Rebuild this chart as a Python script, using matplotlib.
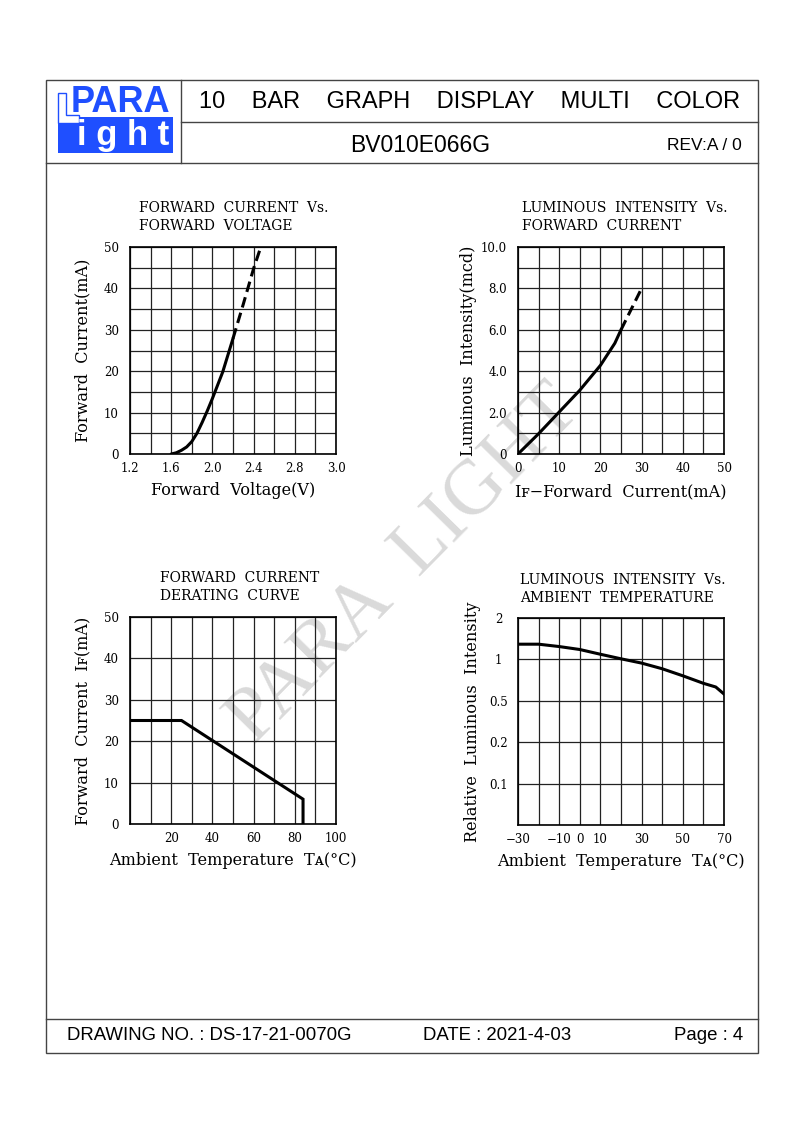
import numpy as np
import matplotlib
matplotlib.use("Agg")
import matplotlib.pyplot as plt
from matplotlib.patches import Rectangle, Polygon

# ---- data ----
fv_volt = [1.60, 1.65, 1.70, 1.75, 1.80, 1.85, 1.90, 1.95, 2.00, 2.10, 2.20]
fv_curr = [0.0, 0.3, 0.9, 1.7, 3.0, 5.0, 7.6, 10.4, 13.4, 19.8, 27.9]
fv_volt_dash = [2.20, 2.30, 2.40, 2.47]
fv_curr_dash = [27.9, 36.2, 44.8, 50.0]

li_curr = [0, 5, 10, 15, 20, 23.5, 25]
li_mcd = [0, 0.98, 2.03, 3.08, 4.28, 5.35, 6.0]
li_curr_dash = [25, 30]
li_mcd_dash = [6.0, 8.0]

der_temp = [0, 25, 84, 84]
der_curr = [25, 25, 6, 0]

rt_temp = [-30, -20, -10, 0, 10, 20, 30, 40, 50, 60, 66, 70]
rt_rel = [1.29, 1.29, 1.24, 1.18, 1.09, 1.01, 0.94, 0.855, 0.76, 0.67, 0.63, 0.56]
rt_yticks = [0.05, 0.1, 0.2, 0.5, 1, 2]
rt_ylabels = ["", "0.1", "0.2", "0.5", "1", "2"]

W, H = 794, 1123
SERIF = "DejaVu Serif"
SANS = "Liberation Sans"

fig = plt.figure(figsize=(W / 100, H / 100), dpi=100)

# page frame in pixel coordinates
bg = fig.add_axes([0, 0, 1, 1])
bg.set_xlim(0, W)
bg.set_ylim(H, 0)
bg.axis("off")
bg.set_zorder(-2)
fc = "#444444"
bg.add_patch(Rectangle((46, 80), 712, 973, fill=False, ec=fc, lw=1))
bg.plot([181, 758], [122, 122], color=fc, lw=1)
bg.plot([46, 758], [163, 163], color=fc, lw=1)
bg.plot([181, 181], [80, 163], color=fc, lw=1)
bg.plot([46, 758], [1019, 1019], color=fc, lw=1)

# logo
blue = "#1f4fff"
bg.add_patch(Rectangle((58, 117), 115, 36, color=blue, lw=0))
bg.add_patch(Polygon([(58, 93), (66, 93), (66, 115), (79, 115), (79, 123), (58, 123)],
                     closed=True, fc="white", ec=blue, lw=1))
bg.text(120, 102, "PARA", color=blue, fontsize=26, fontweight="bold", family=SANS,
        ha="center", va="center")
bg.text(123, 136, "i g h t", color="white", fontsize=25, fontweight="bold", family=SANS,
        ha="center", va="center")

bg.text(470, 102, "10    BAR    GRAPH    DISPLAY    MULTI    COLOR", fontsize=17,
        family=SANS, ha="center", va="center")
bg.text(420, 145, "BV010E066G", fontsize=16.5, family=SANS, ha="center", va="center")
bg.text(742, 145, "REV:A / 0", fontsize=12.5, family=SANS, ha="right", va="center")
bg.text(67, 1036, "DRAWING NO. : DS-17-21-0070G", fontsize=13.4, family=SANS,
        ha="left", va="center")
bg.text(423, 1036, "DATE : 2021-4-03", fontsize=13.4, family=SANS, ha="left", va="center")
bg.text(743, 1036, "Page : 4", fontsize=13.4, family=SANS, ha="right", va="center")

# watermark
fig.text(405 / W, 1 - 565 / H, "PARA  LIGHT", fontsize=56, family="Liberation Serif",
         color="#dadada", rotation=45.5, ha="center", va="center", zorder=-1)


def chart(x0, y0, x1, y1, xlim, ylim, xgrid, ygrid, xticks, xlabels, yticks, ylabels):
    ax = fig.add_axes([x0 / W, 1 - y1 / H, (x1 - x0) / W, (y1 - y0) / H])
    ax.set_facecolor("none")
    ax.set_xlim(xlim)
    ax.set_ylim(ylim)
    ax.set_xticks(xgrid, minor=True)
    ax.set_yticks(ygrid, minor=True)
    ax.set_xticks(xticks, xlabels)
    ax.set_yticks(yticks, ylabels)
    ax.grid(which="both", color="#222222", lw=0.9)
    ax.tick_params(which="both", length=0)
    ax.tick_params(axis="x", pad=6, labelsize=8.5)
    ax.tick_params(axis="y", pad=8, labelsize=8.5)
    for lab in ax.get_xticklabels() + ax.get_yticklabels():
        lab.set_family(SERIF)
    for s in ax.spines.values():
        s.set_linewidth(1.2)
    return ax


def title(x, y, lines):
    for i, t in enumerate(lines):
        bg.text(x, y + i * 18, t, fontsize=10, family=SERIF, ha="left", va="center")


lw = 2.2
LBL = 11.6

# 1. forward current vs forward voltage
ax1 = chart(130, 247, 336, 454, (1.2, 3.2), (0, 50),
            np.arange(1.2, 3.21, 0.2), np.arange(0, 51, 5),
            [1.2, 1.6, 2.0, 2.4, 2.8, 3.2], ["1.2", "1.6", "2.0", "2.4", "2.8", "3.0"],
            range(0, 51, 10), ["0", "10", "20", "30", "40", "50"])
ax1.plot(fv_volt, fv_curr, color="black", lw=lw, solid_capstyle="round")
ax1.plot(fv_volt_dash, fv_curr_dash, color="black", lw=lw, ls=(0, (3.5, 1.8)))
ax1.set_xlabel("Forward  Voltage(V)", family=SERIF, fontsize=LBL, labelpad=5)
ax1.set_ylabel("Forward  Current(mA)", family=SERIF, fontsize=LBL, labelpad=9)
title(139, 208, ["FORWARD  CURRENT  Vs.", "FORWARD  VOLTAGE"])

# 2. luminous intensity vs forward current
ax2 = chart(518, 247, 724, 454, (0, 50), (0, 10),
            range(0, 51, 5), range(0, 11, 1),
            range(0, 51, 10), ["0", "10", "20", "30", "40", "50"],
            range(0, 11, 2), ["0", "2.0", "4.0", "6.0", "8.0", "10.0"])
ax2.plot(li_curr, li_mcd, color="black", lw=lw, solid_capstyle="round")
ax2.plot(li_curr_dash, li_mcd_dash, color="black", lw=lw, ls=(0, (3.5, 1.8)))
ax2.set_xlabel("I\uA730\u2212Forward  Current(mA)", family=[SERIF, "DejaVu Sans"],
               fontsize=LBL, labelpad=6)
ax2.set_ylabel("Luminous  Intensity(mcd)", family=SERIF, fontsize=LBL, labelpad=3)
title(522, 208, ["LUMINOUS  INTENSITY  Vs.", "FORWARD  CURRENT"])

# 3. derating curve
ax3 = chart(130, 617, 336, 824, (0, 100), (0, 50),
            range(0, 101, 10), range(0, 51, 10),
            range(0, 101, 20), ["", "20", "40", "60", "80", "100"],
            range(0, 51, 10), ["0", "10", "20", "30", "40", "50"])
ax3.plot(der_temp, der_curr, color="black", lw=lw, solid_joinstyle="miter")
ax3.set_xlabel("Ambient  Temperature  T\u1D00(\u00b0C)", family=[SERIF, "DejaVu Sans"],
               fontsize=LBL, labelpad=5)
ax3.set_ylabel("Forward  Current  I\uA730(mA)", family=[SERIF, "DejaVu Sans"],
               fontsize=LBL, labelpad=9)
title(160, 578, ["FORWARD  CURRENT", "DERATING  CURVE"])

# 4. relative intensity vs ambient temperature (stepped log-like scale)
log_t = np.log10(rt_yticks)
pos_t = np.arange(len(rt_yticks))


def fwd(y):
    return np.interp(np.log10(np.clip(y, 1e-6, None)), log_t, pos_t)


def inv(p):
    return 10 ** np.interp(p, pos_t, log_t)


ax4 = chart(518, 618, 724, 825, (-30, 70), (0.05, 2),
            range(-30, 71, 10), [],
            [-30, -10, 0, 10, 30, 50, 70],
            ["\u221230", "\u221210", "0", "10", "30", "50", "70"],
            [], [])
ax4.set_yscale("function", functions=(fwd, inv))
ax4.set_ylim(0.05, 2)
ax4.set_yticks(rt_yticks, minor=True)
ax4.set_yticks(rt_yticks, rt_ylabels)
ax4.tick_params(which="both", length=0)
ax4.tick_params(axis="y", pad=14, labelsize=8.5)
for lab in ax4.get_yticklabels():
    lab.set_family(SERIF)
    lab.set_horizontalalignment("center")
ax4.grid(which="both", color="#222222", lw=0.9)
ax4.plot(rt_temp, rt_rel, color="black", lw=lw)
ax4.set_xlabel("Ambient  Temperature  T\u1D00(\u00b0C)", family=[SERIF, "DejaVu Sans"],
               fontsize=LBL, labelpad=5)
ax4.set_ylabel("Relative  Luminous  Intensity", family=SERIF, fontsize=LBL, labelpad=6)
title(520, 580, ["LUMINOUS  INTENSITY  Vs.", "AMBIENT  TEMPERATURE"])

fig.savefig("out.png", dpi=100)
